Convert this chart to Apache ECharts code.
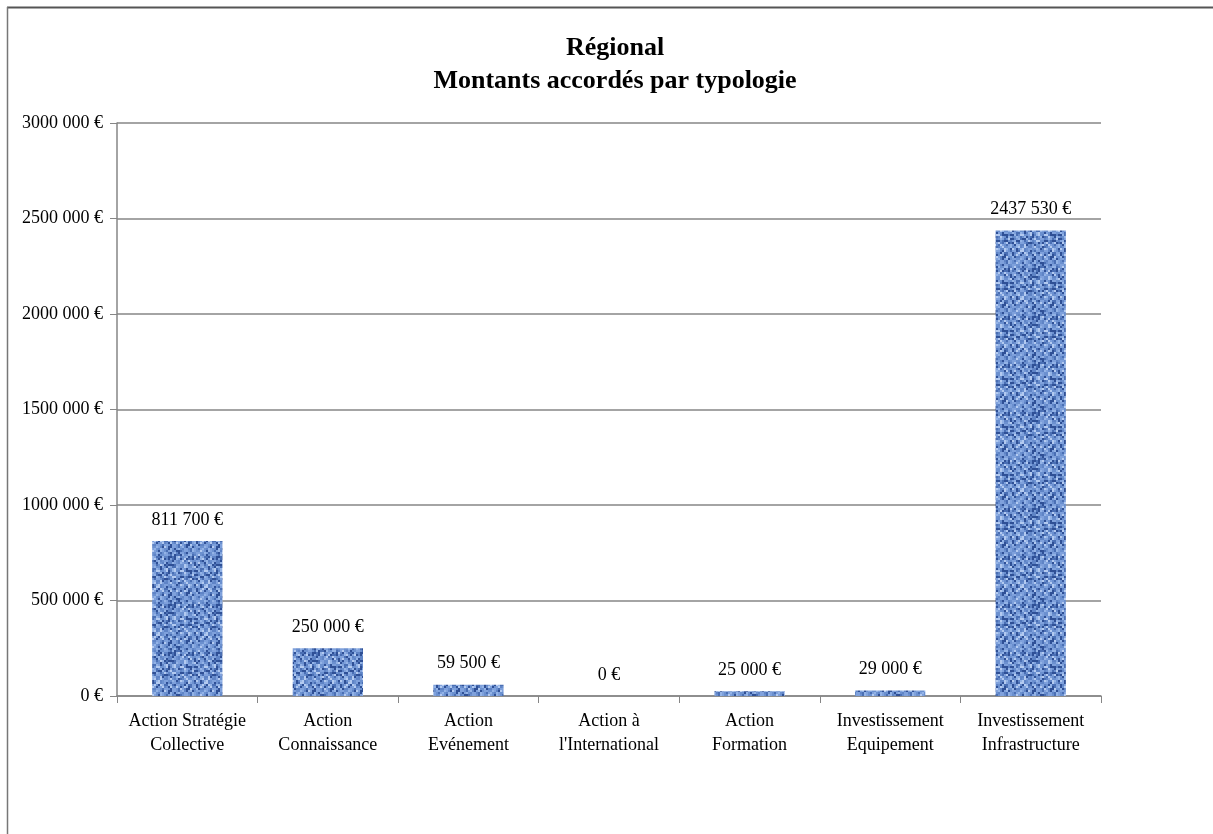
<!DOCTYPE html>
<html><head><meta charset="utf-8">
<script src="https://cdn.jsdelivr.net/npm/echarts@6/dist/echarts.min.js"></script>
<style>html,body{margin:0;padding:0;background:#fff}#c{width:1213px;height:834px}</style>
</head><body><div id="c"></div>
<script>
const categories = ["Action Stratégie\nCollective","Action\nConnaissance","Action\nEvénement","Action à\nl'International","Action\nFormation","Investissement\nEquipement","Investissement\nInfrastructure"];
const values = [811700, 250000, 59500, 0, 25000, 29000, 2437530];
const yTicks = [0, 500000, 1000000, 1500000, 2000000, 2500000, 3000000];
const titleLines = ["Régional", "Montants accordés par typologie"];

function fmt(v){
  if (v < 1000) return v + " €";
  const th = Math.floor(v/1000), r = v % 1000;
  return th + " " + String(r).padStart(3,"0") + " €";
}

// woven texture pattern (decorative only)
function makePattern(){
  const n = 24, px = 2, c = document.createElement('canvas'); c.width = n*px; c.height = n*px;
  const g = c.getContext('2d');
  let h = 98765;
  const rnd = () => { h = (h * 1103515245 + 12345) & 0x7fffffff; return h / 0x7fffffff; };
  for (let y=0;y<n;y++) for (let x=0;x<n;x++){
    const weave = ((x%4<2) ^ (y%4<2)) ? 1 : 0;
    const r = rnd();
    let col;
    if (r < 0.16) col = '#2f5096';
    else if (r < 0.36) col = weave ? '#b3caf0' : '#4a6fb4';
    else if (r < 0.62) col = weave ? '#93b3e6' : '#5f84c6';
    else col = weave ? '#7fa1dc' : '#6b90cf';
    g.fillStyle = col; g.fillRect(x*px,y*px,px,px);
  }
  return c;
}

const chart = echarts.init(document.getElementById('c'), null, {renderer:'canvas'});
const serif = "'Liberation Serif', 'DejaVu Serif', serif";
chart.setOption({
  animation:false,
  backgroundColor:'#fff',
  title:{
    text: titleLines.join("\n"),
    left: 610, top: 27, textAlign:'center',
    textStyle:{fontFamily:serif, fontWeight:'bold', fontSize:26, color:'#000', lineHeight:33}
  },
  graphic:[
    {type:'line', shape:{x1:7,y1:7.5,x2:1213,y2:7.5}, style:{stroke:'#555',lineWidth:2}},
    {type:'line', shape:{x1:7.5,y1:7,x2:7.5,y2:834}, style:{stroke:'#777',lineWidth:1.5}}
  ],
  grid:{left:117, right:112, top:123, bottom:138},
  xAxis:{
    type:'category', data:categories,
    axisLine:{lineStyle:{color:'#868686', width:1.5}},
    axisTick:{show:true, length:7, lineStyle:{color:'#868686'}},
    axisLabel:{fontFamily:serif, fontSize:18, color:'#000', lineHeight:24, margin:13, interval:0}
  },
  yAxis:{
    type:'value', min:yTicks[0], max:yTicks[yTicks.length-1], interval:yTicks[1]-yTicks[0],
    axisLine:{show:true, lineStyle:{color:'#868686', width:1.5}},
    axisTick:{show:true, length:7, lineStyle:{color:'#868686'}},
    splitLine:{lineStyle:{color:'#868686', width:1.5}},
    axisLabel:{fontFamily:serif, fontSize:18, color:'#000', margin:14,
      formatter: v => { if (v===0) return "0 €"; const th=Math.floor(v/1000), r=v%1000; return th+" "+String(r).padStart(3,"0")+" €"; }}
  },
  series:[{
    type:'bar', data:values, barWidth:'50%',
    itemStyle:{color:{image:makePattern(), repeat:'repeat'}},
    label:{show:true, position:'top', distance:12, fontFamily:serif, fontSize:18, color:'#000', formatter:p=>fmt(p.value)}
  }]
});
</script></body></html>
